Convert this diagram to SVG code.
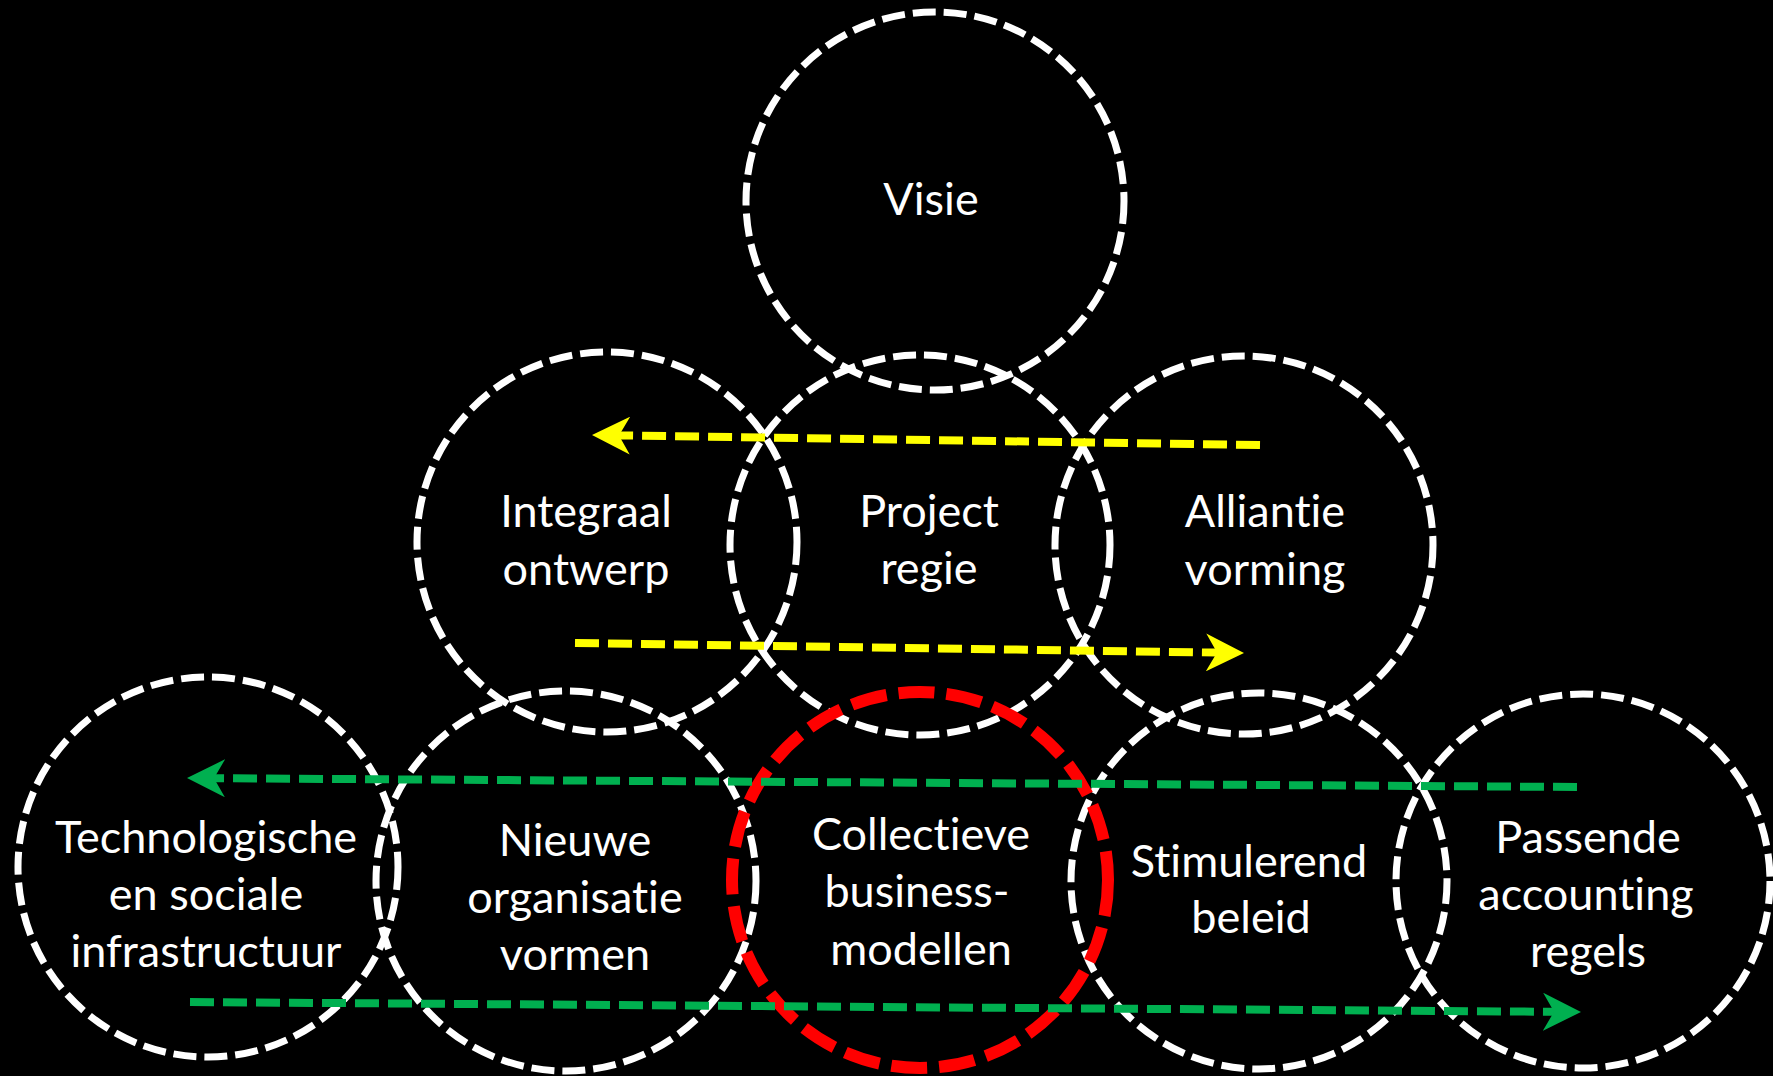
<svg xmlns="http://www.w3.org/2000/svg" width="1773" height="1076" viewBox="0 0 1773 1076">
<style>
.c{fill:none;stroke:#fff;stroke-width:7;stroke-dasharray:23 8}
.r{fill:none;stroke:#f00;stroke-width:12;stroke-dasharray:36 12}
.t{font-family:Lato,"Open Sans",sans-serif;font-size:45px;fill:#fff;text-anchor:middle;font-variant-ligatures:none;font-feature-settings:"liga" 0}
.y{fill:none;stroke:#ff0;stroke-width:8;stroke-dasharray:24 9}
.g{fill:none;stroke:#00b050;stroke-width:8;stroke-dasharray:24 9}
</style>
<defs>
<marker id="ay" viewBox="0 0 38 38" refX="11" refY="19" markerWidth="38" markerHeight="38" markerUnits="userSpaceOnUse" orient="auto"><path d="M38,19 L0,0 L11,19 L0,38 Z" fill="#ff0"/></marker>
<marker id="ag" viewBox="0 0 38 38" refX="11" refY="19" markerWidth="38" markerHeight="38" markerUnits="userSpaceOnUse" orient="auto"><path d="M38,19 L0,0 L11,19 L0,38 Z" fill="#00b050"/></marker>
</defs>
<rect width="1773" height="1076" fill="#000"/>
<g id="visie"><circle class="c" cx="935" cy="201" r="189"/><text class="t" x="931" y="215">Visie</text></g>
<g id="integraal"><circle class="c" cx="607" cy="542" r="190"/><text class="t" x="586" y="527">Integraal</text><text class="t" x="586" y="585">ontwerp</text></g>
<g id="project"><circle class="c" cx="920" cy="545" r="190"/><text class="t" x="929" y="527">Project</text><text class="t" x="929" y="584">regie</text></g>
<g id="alliantie"><circle class="c" cx="1244" cy="545" r="189"/><text class="t" x="1265" y="527">Alliantie</text><text class="t" x="1265" y="585">vorming</text></g>
<g id="tech"><circle class="c" cx="208" cy="867" r="190"/><text class="t" x="206" y="853">Technologische</text><text class="t" x="206" y="910">en sociale</text><text class="t" x="206" y="967">infrastructuur</text></g>
<g id="nieuwe"><circle class="c" cx="566" cy="881" r="190"/><text class="t" x="575" y="856">Nieuwe</text><text class="t" x="575" y="913">organisatie</text><text class="t" x="575" y="970">vormen</text></g>
<g id="stim"><circle class="c" cx="1259" cy="881" r="188"/><text class="t" x="1249" y="877">Stimulerend</text><text class="t" x="1251" y="933">beleid</text></g>
<g id="passende"><circle class="c" cx="1583" cy="881" r="187"/><text class="t" x="1588" y="853">Passende</text><text class="t" x="1586" y="910">accounting</text><text class="t" x="1588" y="967">regels</text></g>
<g id="collectieve"><circle class="r" cx="920" cy="880" r="188"/><text class="t" x="921" y="850">Collectieve</text><text class="t" x="917" y="907">business-</text><text class="t" x="921" y="965">modellen</text></g>
<g id="connectors">
<path class="y" d="M1260,445 L619,435.4" marker-end="url(#ay)"/>
<path class="y" d="M575,643 L1217,652.6" marker-end="url(#ay)"/>
<path class="g" d="M1577,787 L214,778.2" marker-end="url(#ag)"/>
<path class="g" d="M190,1002 L1554,1011.8" marker-end="url(#ag)"/>
</g>
</svg>
